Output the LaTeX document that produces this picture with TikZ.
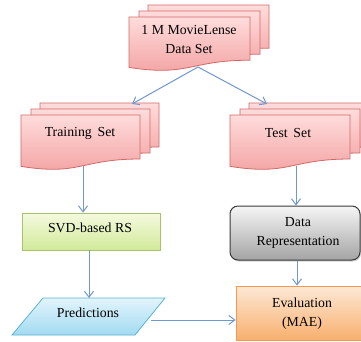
\documentclass[tikz,border=0pt]{standalone}
\usepackage{fontspec}
\setmainfont{Liberation Serif}
\usetikzlibrary{shapes.misc,arrows.meta,shadows}
\definecolor{arrowblue}{HTML}{7098D0}
\definecolor{docTop}{HTML}{FFDCDC}
\definecolor{docBot}{HTML}{F3A0A0}
\definecolor{docLine}{HTML}{CF6A68}
\definecolor{grnTop}{HTML}{F4FADF}
\definecolor{grnBot}{HTML}{D2EA9A}
\definecolor{grnLine}{HTML}{A8C46A}
\definecolor{gryTop}{HTML}{F6F6F6}
\definecolor{gryBot}{HTML}{A4A4A4}
\definecolor{gryLine}{HTML}{3A3A3A}
\definecolor{bluTop}{HTML}{E2F4FC}
\definecolor{bluBot}{HTML}{A2DBF2}
\definecolor{bluLine}{HTML}{5BB3CF}
\definecolor{orgTop}{HTML}{FDE8D6}
\definecolor{orgBot}{HTML}{F8B06E}
\definecolor{orgLine}{HTML}{F49A50}
\tikzset{
  docstyle/.style={draw=docLine, line width=0.8pt, top color=docTop, bottom color=docBot},
  txt/.style={font=\fontsize{13.8}{19}\selectfont, align=center, inner sep=0pt},
  arr/.style={draw=arrowblue, line width=1pt, -{Straight Barb[length=6pt,width=9pt]}},
  svdbox/.style={rectangle, draw=grnLine, line width=0.8pt, top color=grnTop, bottom color=grnBot, minimum width=138pt, minimum height=37pt, inner sep=0pt},
  drbox/.style={rectangle, rounded corners=8pt, draw=gryLine, line width=1pt, top color=gryTop, bottom color=gryBot, minimum width=130pt, minimum height=54pt, inner sep=0pt, drop shadow={shadow xshift=1pt, shadow yshift=-1.5pt, opacity=0.35}},
  evbox/.style={chamfered rectangle, chamfered rectangle corners=south west, chamfered rectangle xsep=7pt, chamfered rectangle ysep=8pt, draw=orgLine, line width=0.8pt, top color=orgTop, bottom color=orgBot, minimum width=136pt, minimum height=54pt, inner sep=0pt},
  predstyle/.style={draw=bluLine, line width=0.8pt, top color=bluTop, bottom color=bluBot}
}
\newcommand\mydoc[4]{\path[docstyle] (#1,#2) -- ({#1+#3},#2) -- ({#1+#3},{#2+0.8*#4}) .. controls ({#1+0.5*#3},{#2+0.8*#4}) and ({#1+0.5*#3},{#2+1.107*#4}) .. (#1,{#2+0.934*#4}) -- cycle;}
\newcommand\mymultidoc[4]{%
  \mydoc{#1+19}{#2-12}{#3}{#4}%
  \mydoc{#1+10}{#2-6}{#3}{#4}%
  \mydoc{#1}{#2}{#3}{#4}}
\begin{document}
\begin{tikzpicture}[x=1pt,y=-1pt]
\useasboundingbox (0,0) rectangle (361,341);
\clip (0,0) rectangle (361,341);
\fill[white] (0,0) rectangle (361,341);

% documents
\mymultidoc{129}{17}{121}{54}
\mymultidoc{21}{115}{119}{55}
\mymultidoc{230}{115}{120}{55}
\node[txt] (ml) at (189,39) {1 M MovieLense\\Data Set};
\node[txt] (train) at (80,133) {Training\, Set};
\node[txt] (test) at (288,133) {Test\, Set};

% boxes
\node[svdbox] (svd) at (91,231.5) {};
\node[txt] at (90,227.5) {SVD-based RS};
\node[drbox] (dr) at (295,233) {};
\node[txt] at (298,232.5) {Data\\Representation};
\node[evbox] (ev) at (304,313) {};
\node[txt] at (302,313.5) {Evaluation\\(MAE)};
\path[predstyle] (43,298) -- (165,298) -- (135,335) -- (12,335) -- cycle;
\node[txt] (pred) at (88,313) {Predictions};

% connector ends
\coordinate (mlout) at (198,67);
\coordinate (trainin) at (132,104);
\coordinate (testin) at (267,104);
\coordinate (trainout) at (83,166);
\coordinate (testout) at (296,166);
\coordinate (predtop) at (89,298);
\coordinate (predout) at (151,320);

\draw[arr] (mlout) -- (trainin);
\draw[arr] (mlout) -- (testin);
\draw[arr] (trainout) -- (trainout |- svd.north);
\draw[arr] (predtop |- svd.south) -- (predtop);
\draw[arr] (testout) -- (testout |- dr.north);
\draw[arr] ([xshift=2pt]dr.south) -- ([xshift=2pt]dr.south |- ev.north);
\draw[arr] (predout) -- (predout -| ev.west);
\end{tikzpicture}
\end{document}
